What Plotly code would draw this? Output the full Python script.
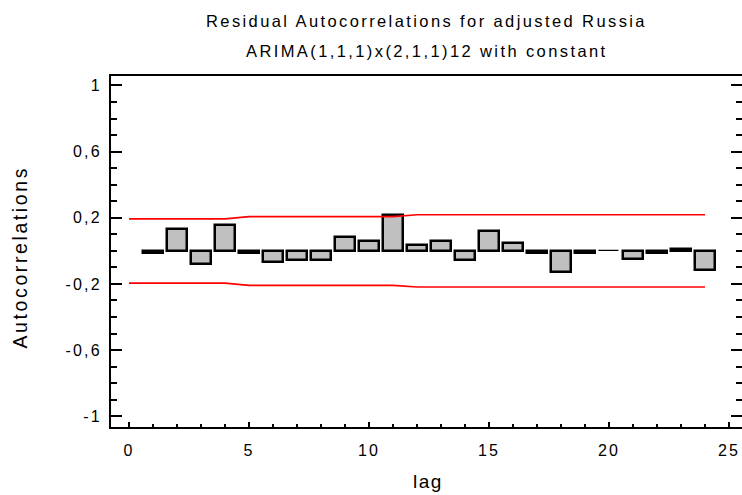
import plotly.graph_objects as go

# ---- data ----
lags = [1, 2, 3, 4, 5, 6, 7, 8, 9, 10, 11, 12, 13, 14, 15, 16, 17, 18, 19, 20, 21, 22, 23, 24]
autocorr = [-0.012, 0.13, -0.08, 0.155, -0.012, -0.068, -0.056, -0.056, 0.083, 0.06, 0.218, 0.035,
            0.06, -0.058, 0.12, 0.05, -0.012, -0.13, -0.012, 0.002, -0.048, -0.012, 0.01, -0.115]

limit_lags = [0, 1, 2, 3, 4, 5, 6, 7, 8, 9, 10, 11, 12, 13, 14, 15, 16, 17, 18, 19, 20, 21, 22, 23, 24]
upper_limit = [0.193, 0.193, 0.193, 0.193, 0.193, 0.207, 0.207, 0.207, 0.207, 0.207, 0.207, 0.207, 0.218,
               0.218, 0.218, 0.218, 0.218, 0.218, 0.218, 0.218, 0.218, 0.218, 0.218, 0.218, 0.218]
lower_limit = [-0.195, -0.195, -0.195, -0.195, -0.195, -0.209, -0.209, -0.209, -0.209, -0.209, -0.209, -0.209, -0.219,
               -0.219, -0.219, -0.219, -0.219, -0.219, -0.219, -0.219, -0.219, -0.219, -0.219, -0.219, -0.219]

x_tick_vals = [0, 5, 10, 15, 20, 25]
x_tick_text = ["0", "5", "10", "15", "20", "25"]
y_tick_vals = [-1, -0.6, -0.2, 0.2, 0.6, 1]
y_tick_text = ["-1", "-0,6", "-0,2", "0,2", "0,6", "1"]

title_line1 = "Residual Autocorrelations for adjusted Russia"
title_line2 = "ARIMA(1,1,1)x(2,1,1)12 with constant"
x_title = "lag"
y_title = "Autocorrelations"

FONT = "Liberation Sans, Arial, sans-serif"


def sp(t, s=2.2):
    return f'<span style="letter-spacing:{s}px">{t}</span>'


# ---- figure ----
W, H = 742, 495
ML, MR, MT, MB = 111, 0, 75.5, 67.5
PH = H - MT - MB

line_widths = [1.2 if abs(v) < 0.005 else 2.5 for v in autocorr]

fig = go.Figure()
fig.add_trace(go.Bar(
    x=lags, y=autocorr, width=0.82,
    marker=dict(color="#C0C0C0", line=dict(color="black", width=line_widths)),
    showlegend=False, hoverinfo="x+y",
))
fig.add_trace(go.Scatter(x=limit_lags, y=upper_limit, mode="lines",
                         line=dict(color="#FF0000", width=1.6), showlegend=False))
fig.add_trace(go.Scatter(x=limit_lags, y=lower_limit, mode="lines",
                         line=dict(color="#FF0000", width=1.6), showlegend=False))

fig.update_layout(
    width=W, height=H,
    margin=dict(l=ML, r=MR, t=MT, b=MB, pad=0),
    paper_bgcolor="white", plot_bgcolor="white",
    font=dict(family=FONT, color="black", size=16),
    bargap=0,
)

fig.update_xaxes(
    range=[-0.75, 25.54], showgrid=False, zeroline=False, automargin=False,
    showline=True, linecolor="black", linewidth=2, mirror=True,
    ticks="inside", ticklen=5, tickwidth=2, tickcolor="black",
    tickmode="array", tickvals=x_tick_vals, ticktext=[sp(t) for t in x_tick_text],
    tickfont=dict(size=16, family=FONT), ticklabelstandoff=8,
    minor=dict(tickmode="linear", tick0=0, dtick=1, ticks="inside", ticklen=3, tickwidth=2, tickcolor="black"),
)
fig.update_yaxes(
    range=[-1.065, 1.057], showgrid=False, zeroline=False, automargin=False,
    showline=True, linecolor="black", linewidth=2, mirror="ticks",
    ticks="inside", ticklen=11, tickwidth=2, tickcolor="black",
    tickmode="array", tickvals=y_tick_vals, ticktext=[sp(t) for t in y_tick_text],
    tickfont=dict(size=16, family=FONT), ticklabelstandoff=4,
    minor=dict(tickmode="linear", tick0=0, dtick=0.1, ticks="inside", ticklen=6, tickwidth=2, tickcolor="black"),
)

# titles (positioned in paper coordinates)
fig.add_annotation(text=sp(title_line1, 2.4), xref="paper", yref="paper", x=0.5, y=1 + (MT - 20) / PH,
                   xanchor="center", yanchor="middle", showarrow=False, font=dict(size=16.5, family=FONT))
fig.add_annotation(text=sp(title_line2, 2.4), xref="paper", yref="paper", x=0.5, y=1 + (MT - 50.5) / PH,
                   xanchor="center", yanchor="middle", showarrow=False, font=dict(size=16.5, family=FONT))
fig.add_annotation(text=sp(x_title, 1.5), xref="paper", yref="paper", x=(428 - ML) / (W - ML - MR),
                   y=-(482 - (H - MB)) / PH, xanchor="center", yanchor="middle", showarrow=False,
                   font=dict(size=19, family=FONT))
fig.add_annotation(text=sp(y_title, 2.6), xref="paper", yref="paper", x=(20 - ML) / (W - ML - MR),
                   y=((H - MB) - 257.5) / PH, xanchor="center", yanchor="middle", textangle=-90,
                   showarrow=False, font=dict(size=19.5, family=FONT))

fig.write_html("out.html", config={"displayModeBar": False},
               post_script="document.body.style.margin='0px';")
